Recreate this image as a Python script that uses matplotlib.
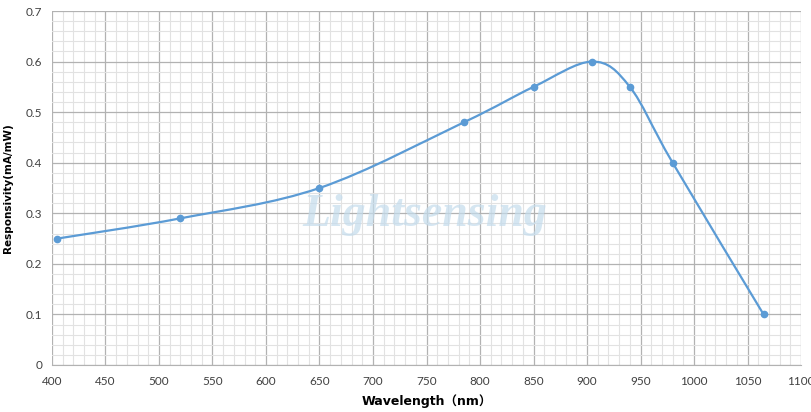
import matplotlib

matplotlib.use("Agg")
import matplotlib.pyplot as plt
from matplotlib.path import Path
from matplotlib.patches import PathPatch
from matplotlib.ticker import MultipleLocator, FuncFormatter

wavelength = [405, 520, 650, 785, 850, 905, 940, 980, 1065]
responsivity = [0.25, 0.29, 0.35, 0.48, 0.55, 0.60, 0.55, 0.40, 0.10]

x_ticks = list(range(400, 1101, 50))
y_ticks = [0, 0.1, 0.2, 0.3, 0.4, 0.5, 0.6, 0.7]

BLUE = "#5b9bd5"


def smooth_path(xs, ys):
    """Excel-style smoothed line: cubic Bezier segments with Catmull-Rom control points."""
    pts = list(zip(xs, ys))
    n = len(pts)
    verts = [pts[0]]
    codes = [Path.MOVETO]
    for i in range(n - 1):
        p0 = pts[max(i - 1, 0)]
        p1 = pts[i]
        p2 = pts[i + 1]
        p3 = pts[min(i + 2, n - 1)]
        c1 = (p1[0] + (p2[0] - p0[0]) / 6, p1[1] + (p2[1] - p0[1]) / 6)
        c2 = (p2[0] - (p3[0] - p1[0]) / 6, p2[1] - (p3[1] - p1[1]) / 6)
        verts += [c1, c2, p2]
        codes += [Path.CURVE4] * 3
    return Path(verts, codes)


fig = plt.figure(figsize=(8.11, 4.12), dpi=100)
ax = fig.add_axes([0.0641, 0.1141, 0.9236, 0.8592])

ax.set_xlim(400, 1100)
ax.set_ylim(0, 0.7)
ax.xaxis.set_minor_locator(MultipleLocator(10))
ax.yaxis.set_minor_locator(MultipleLocator(0.02))
ax.set_xticks(x_ticks)
ax.set_yticks(y_ticks)
ax.yaxis.set_major_formatter(FuncFormatter(lambda v, _: "0" if abs(v) < 1e-9 else f"{v:.1f}"))

ax.grid(which="minor", color="#e2e2e2", lw=0.8)
ax.grid(which="major", color="#b2b2b2", lw=0.9)
ax.set_axisbelow(True)
for s in ax.spines.values():
    s.set_visible(False)
ax.spines["bottom"].set_visible(True)
ax.spines["bottom"].set_color("#b2b2b2")
ax.tick_params(which="both", length=0)
ax.tick_params(axis="x", pad=8)
ax.tick_params(axis="y", pad=7)
for lab in ax.get_xticklabels() + ax.get_yticklabels():
    lab.set_fontfamily("Lato")
    lab.set_fontsize(8.5)
    lab.set_color("#404040")

# watermark
ax.text(748, 0.296, "Lightsensing", fontsize=33, fontfamily="Liberation Serif",
        style="italic", fontweight="bold", color="#c4dcec", alpha=0.7,
        ha="center", va="center", zorder=1)

ax.add_patch(PathPatch(smooth_path(wavelength, responsivity), facecolor="none",
                       edgecolor=BLUE, lw=1.6, zorder=3))
ax.plot(wavelength, responsivity, "o", color=BLUE, ms=4.5, zorder=4)

ax.set_xlabel("Wavelength（nm）", fontsize=9, fontweight="bold",
              family=["DejaVu Sans", "Noto Sans CJK SC"], labelpad=5)
ax.set_ylabel("Responsivity(mA/mW)", fontsize=7.5, fontweight="bold",
              family=["DejaVu Sans", "Noto Sans CJK SC"], labelpad=9)

fig.savefig("out.png", dpi=100)
